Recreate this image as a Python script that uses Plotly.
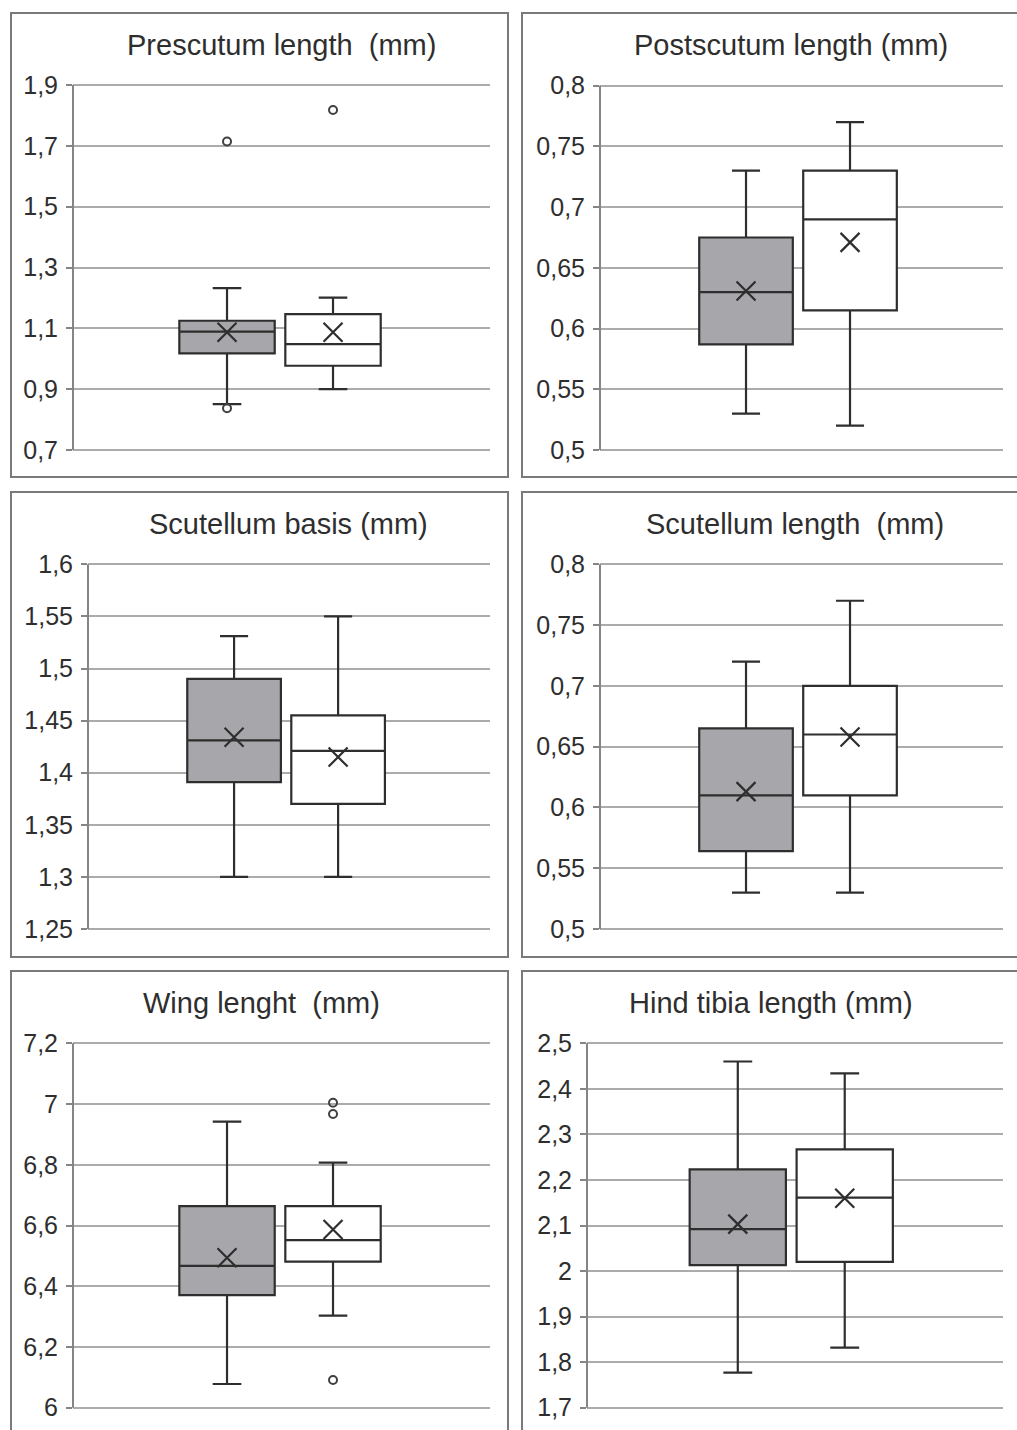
import plotly.graph_objects as go

# ---- data -----------------------------------------------------------------
TITLES = [
    "Prescutum length\u00a0 (mm)",
    "Postscutum length (mm)",
    "Scutellum basis (mm)",
    "Scutellum length\u00a0 (mm)",
    "Wing lenght\u00a0 (mm)",
    "Hind tibia length (mm)",
]

# two groups per panel: [grey group, white group]
LOWER_WHISKER = [[0.851, 0.900], [0.530, 0.520], [1.300, 1.300],
                 [0.530, 0.530], [6.078, 6.303], [1.777, 1.832]]
Q1 = [[1.018, 0.977], [0.587, 0.615], [1.391, 1.370],
      [0.564, 0.610], [6.371, 6.481], [2.013, 2.020]]
MEDIAN = [[1.089, 1.048], [0.630, 0.690], [1.431, 1.421],
          [0.610, 0.660], [6.467, 6.552], [2.092, 2.161]]
Q3 = [[1.125, 1.147], [0.675, 0.730], [1.490, 1.455],
      [0.665, 0.700], [6.664, 6.664], [2.223, 2.267]]
UPPER_WHISKER = [[1.232, 1.201], [0.730, 0.770], [1.531, 1.550],
                 [0.720, 0.770], [6.942, 6.807], [2.460, 2.434]]
MEAN = [[1.087, 1.087], [0.631, 0.671], [1.434, 1.415],
        [0.613, 0.658], [6.494, 6.587], [2.103, 2.160]]
OUTLIERS = [
    [[0.837, 1.714], [1.818]],
    [[], []],
    [[], []],
    [[], []],
    [[], [7.004, 6.967, 6.091]],
    [[], []],
]

Y_TICKS = [
    [0.7, 0.9, 1.1, 1.3, 1.5, 1.7, 1.9],
    [0.5, 0.55, 0.6, 0.65, 0.7, 0.75, 0.8],
    [1.25, 1.3, 1.35, 1.4, 1.45, 1.5, 1.55, 1.6],
    [0.5, 0.55, 0.6, 0.65, 0.7, 0.75, 0.8],
    [6.0, 6.2, 6.4, 6.6, 6.8, 7.0, 7.2],
    [1.7, 1.8, 1.9, 2.0, 2.1, 2.2, 2.3, 2.4, 2.5],
]
Y_TICK_LABELS = [
    ["0,7", "0,9", "1,1", "1,3", "1,5", "1,7", "1,9"],
    ["0,5", "0,55", "0,6", "0,65", "0,7", "0,75", "0,8"],
    ["1,25", "1,3", "1,35", "1,4", "1,45", "1,5", "1,55", "1,6"],
    ["0,5", "0,55", "0,6", "0,65", "0,7", "0,75", "0,8"],
    ["6", "6,2", "6,4", "6,6", "6,8", "7", "7,2"],
    ["1,7", "1,8", "1,9", "2", "2,1", "2,2", "2,3", "2,4", "2,5"],
]

GROUP_POS = [0, 1]
GROUP_FILL = ["#a7a6ab", "#ffffff"]

# ---- layout geometry (pixels) -----------------------------------------------
W, H = 1017, 1430
# position of the first and last tick: left, right, top, bottom
PLOT_PX = [
    (73, 490, 85, 450),
    (600, 1003, 85.7, 450),
    (88, 490, 564.3, 929),
    (600, 1003, 564.3, 929),
    (73, 490, 1043.3, 1407.7),
    (587, 1003, 1043.3, 1407.7),
]
PAD_PX = 2.0  # extra room so the end gridlines are kept
X_RANGES = [
    (-1.453, 2.481), (-1.404, 2.471), (-1.404, 2.46),
    (-1.404, 2.471), (-1.453, 2.481), (-1.41, 2.48),
]
FRAME_PX = [
    (11, 508, 13, 477), (522, 1022, 13, 477),
    (11, 508, 492, 957), (522, 1022, 492, 957),
    (11, 508, 971, 1440), (522, 1022, 971, 1440),
]
TITLE_PX = [(281, 45), (791, 45), (288, 524), (795, 524), (261, 1003), (771, 1003)]

INK = "#2e2e2e"
GRID = "#ababab"
AXIS = "#858585"
FONT = "Liberation Sans, Arial, sans-serif"

fig = go.Figure()
layout = {}
shapes = []
annotations = []

for i in range(6):
    n = i + 1
    xa = "x" if n == 1 else f"x{n}"
    ya = "y" if n == 1 else f"y{n}"
    left, right, top, bottom = PLOT_PX[i]

    for g in range(2):
        fig.add_trace(go.Box(
            x=[GROUP_POS[g]],
            lowerfence=[LOWER_WHISKER[i][g]],
            q1=[Q1[i][g]],
            median=[MEDIAN[i][g]],
            q3=[Q3[i][g]],
            upperfence=[UPPER_WHISKER[i][g]],
            orientation="v",
            width=0.9,
            whiskerwidth=0.3,
            fillcolor=GROUP_FILL[g],
            line=dict(color=INK, width=2.2),
            boxpoints=False,
            showlegend=False,
            hoverinfo="skip",
            xaxis=xa, yaxis=ya,
        ))
        if OUTLIERS[i][g]:
            fig.add_trace(go.Scatter(
                x=[GROUP_POS[g]] * len(OUTLIERS[i][g]),
                y=OUTLIERS[i][g],
                mode="markers",
                marker=dict(symbol="circle-open", size=8, color="#404040",
                            line=dict(width=2, color="#404040")),
                showlegend=False, hoverinfo="skip",
                xaxis=xa, yaxis=ya,
            ))

    fig.add_trace(go.Scatter(
        x=GROUP_POS, y=MEAN[i],
        mode="markers",
        marker=dict(symbol="x-thin", size=19, color=INK,
                    line=dict(width=2.2, color=INK)),
        showlegend=False, hoverinfo="skip",
        xaxis=xa, yaxis=ya,
    ))

    ticks = Y_TICKS[i]
    span = ticks[-1] - ticks[0]
    pad = span * PAD_PX / (bottom - top)

    key_x = "xaxis" if n == 1 else f"xaxis{n}"
    key_y = "yaxis" if n == 1 else f"yaxis{n}"
    layout[key_x] = dict(
        domain=[left / W, right / W],
        range=list(X_RANGES[i]),
        visible=False,
        automargin=False,
        anchor=ya,
        fixedrange=True,
    )
    layout[key_y] = dict(
        domain=[1 - (bottom + PAD_PX) / H, 1 - (top - PAD_PX) / H],
        range=[ticks[0] - pad, ticks[-1] + pad],
        anchor=xa,
        automargin=False,
        tickmode="array",
        tickvals=ticks,
        ticktext=Y_TICK_LABELS[i],
        showgrid=True, gridcolor=GRID, gridwidth=2,
        zeroline=False,
        showline=False,
        ticks="outside", ticklen=6, tickwidth=2, tickcolor=AXIS,
        ticklabelstandoff=3,
        tickfont=dict(family=FONT, size=25, color=INK),
        fixedrange=True,
    )

    # vertical axis line, running from the lowest to the highest tick
    shapes.append(dict(
        type="line", xref=f"{xa} domain", yref=ya,
        x0=0, x1=0, y0=ticks[0], y1=ticks[-1],
        line=dict(color=AXIS, width=2), layer="above",
    ))

    fx0, fx1, fy0, fy1 = FRAME_PX[i]
    shapes.append(dict(
        type="rect", xref="paper", yref="paper",
        x0=fx0 / W, x1=fx1 / W, y0=1 - fy1 / H, y1=1 - fy0 / H,
        line=dict(color="#7a7a7a", width=2), fillcolor="rgba(0,0,0,0)",
        layer="below",
    ))

    tx, ty = TITLE_PX[i]
    annotations.append(dict(
        text=TITLES[i], xref="paper", yref="paper",
        x=tx / W, y=1 - ty / H, xanchor="center", yanchor="middle",
        showarrow=False,
        font=dict(family=FONT, size=29, color=INK),
    ))

fig.update_layout(
    template="none",
    width=W, height=H,
    autosize=False,
    margin=dict(l=0, r=0, t=0, b=0, pad=0, autoexpand=False),
    paper_bgcolor="white", plot_bgcolor="white",
    shapes=shapes, annotations=annotations,
    showlegend=False,
    **layout,
)

fig.write_html("out.html", config={"displayModeBar": False})
